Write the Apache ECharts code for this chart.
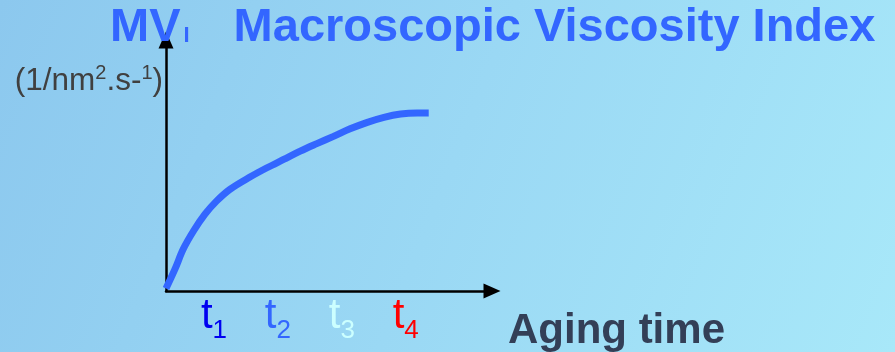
<!DOCTYPE html>
<html>
<head>
<meta charset="utf-8">
<script src="https://cdn.jsdelivr.net/npm/echarts@6/dist/echarts.min.js"></script>
<style>
  html, body { margin: 0; padding: 0; }
  #chart { width: 895px; height: 352px; }
</style>
</head>
<body>
<div id="chart"></div>
<script>
// Aging time (arbitrary units) and the macroscopic viscosity index along the curve
const agingTime = [0, 0.14, 0.27, 0.43, 0.61, 0.79, 1.00, 1.32, 1.58, 1.84, 2.10, 2.36, 2.62, 2.88, 3.15, 3.41, 3.67, 3.93, 4.11];
const mviValues = [0.10, 0.87, 1.67, 2.39, 3.06, 3.58, 4.05, 4.55, 4.91, 5.24, 5.57, 5.87, 6.16, 6.46, 6.72, 6.92, 7.05, 7.09, 7.09];

// Measurement instants t1..t4 on the time axis
const tickTimes = [0.75, 1.75, 2.75, 3.75];
const tickIndices = ['1', '2', '3', '4'];

const FONT = '"Liberation Sans", Arial, sans-serif';
const tickColors = ['#0000f0', '#3366ff', '#ccffff', '#ff0000'];

const tickRich = {};
tickColors.forEach(function (c, i) {
  tickRich['t' + i] = { color: c, fontSize: 42, fontFamily: FONT, lineHeight: 49, verticalAlign: 'top' };
  tickRich['s' + i] = { color: c, fontSize: 26, fontFamily: FONT, lineHeight: 49, verticalAlign: 'bottom' };
});

const chart = echarts.init(document.getElementById('chart'), null, { renderer: 'canvas' });

const axisLineStyle = { color: '#000000', width: 2.5 };

chart.setOption({
  animation: false,
  backgroundColor: {
    type: 'linear', x: 0, y: 0, x2: 1, y2: 1,
    colorStops: [
      { offset: 0, color: '#8cc8ee' },
      { offset: 0.5, color: '#9ad8f4' },
      { offset: 1, color: '#a8e8f9' }
    ]
  },
  title: [{
    text: '{m|MV}{i|I}{m|Macroscopic Viscosity Index}',
    left: 110,
    top: 3,
    padding: 0,
    textStyle: {
      rich: {
        m: { fontSize: 47, fontWeight: 'bold', color: '#3366ff', fontFamily: FONT, lineHeight: 50 },
        i: { fontSize: 22, fontWeight: 'bold', color: '#3366ff', fontFamily: FONT, lineHeight: 50,
             verticalAlign: 'bottom', padding: [0, 44, 6, 3] }
      }
    }
  }],
  grid: { left: 166, top: 40, right: 403, bottom: 60 },
  xAxis: {
    type: 'value',
    min: 0,
    max: 5.1,
    axisLine: { show: true, onZero: true, symbol: ['none', 'triangle'], symbolSize: [15, 17], lineStyle: axisLineStyle },
    axisTick: { show: false },
    splitLine: { show: false },
    axisLabel: {
      customValues: tickTimes,
      margin: 4,
      formatter: function (v) {
        const i = tickTimes.indexOf(v);
        return '{t' + i + '|t}{s' + i + '|' + tickIndices[i] + '}';
      },
      rich: tickRich
    },
    name: 'Aging time',
    nameLocation: 'end',
    nameGap: 16,
    nameTextStyle: {
      fontSize: 42, fontWeight: 'bold', fontFamily: FONT, color: '#333f57',
      align: 'left', verticalAlign: 'top', lineHeight: 42, padding: [19, 0, 0, 0]
    }
  },
  yAxis: {
    type: 'value',
    min: 0,
    max: 10,
    axisLine: { show: true, onZero: true, symbol: ['none', 'triangle'], symbolSize: [15, 17], lineStyle: axisLineStyle },
    axisTick: { show: false },
    axisLabel: { show: false },
    splitLine: { show: false },
    name: '{b|(1/nm}{p|2}{b|.s-}{p|1}{b|)}',
    nameLocation: 'end',
    nameGap: -41,
    nameTextStyle: {
      align: 'right', verticalAlign: 'middle', padding: [0, 3, 0, 0],
      rich: {
        b: { fontSize: 31.5, fontFamily: FONT, color: '#404040', lineHeight: 35 },
        p: { fontSize: 20, fontFamily: FONT, color: '#404040', lineHeight: 35, verticalAlign: 'top' }
      }
    }
  },
  series: [{
    type: 'line',
    data: agingTime.map(function (t, i) { return [t, mviValues[i]]; }),
    showSymbol: false,
    smooth: 0.35,
    lineStyle: { color: '#3366ff', width: 7 },
    z: 3
  }]
});
</script>
</body>
</html>
